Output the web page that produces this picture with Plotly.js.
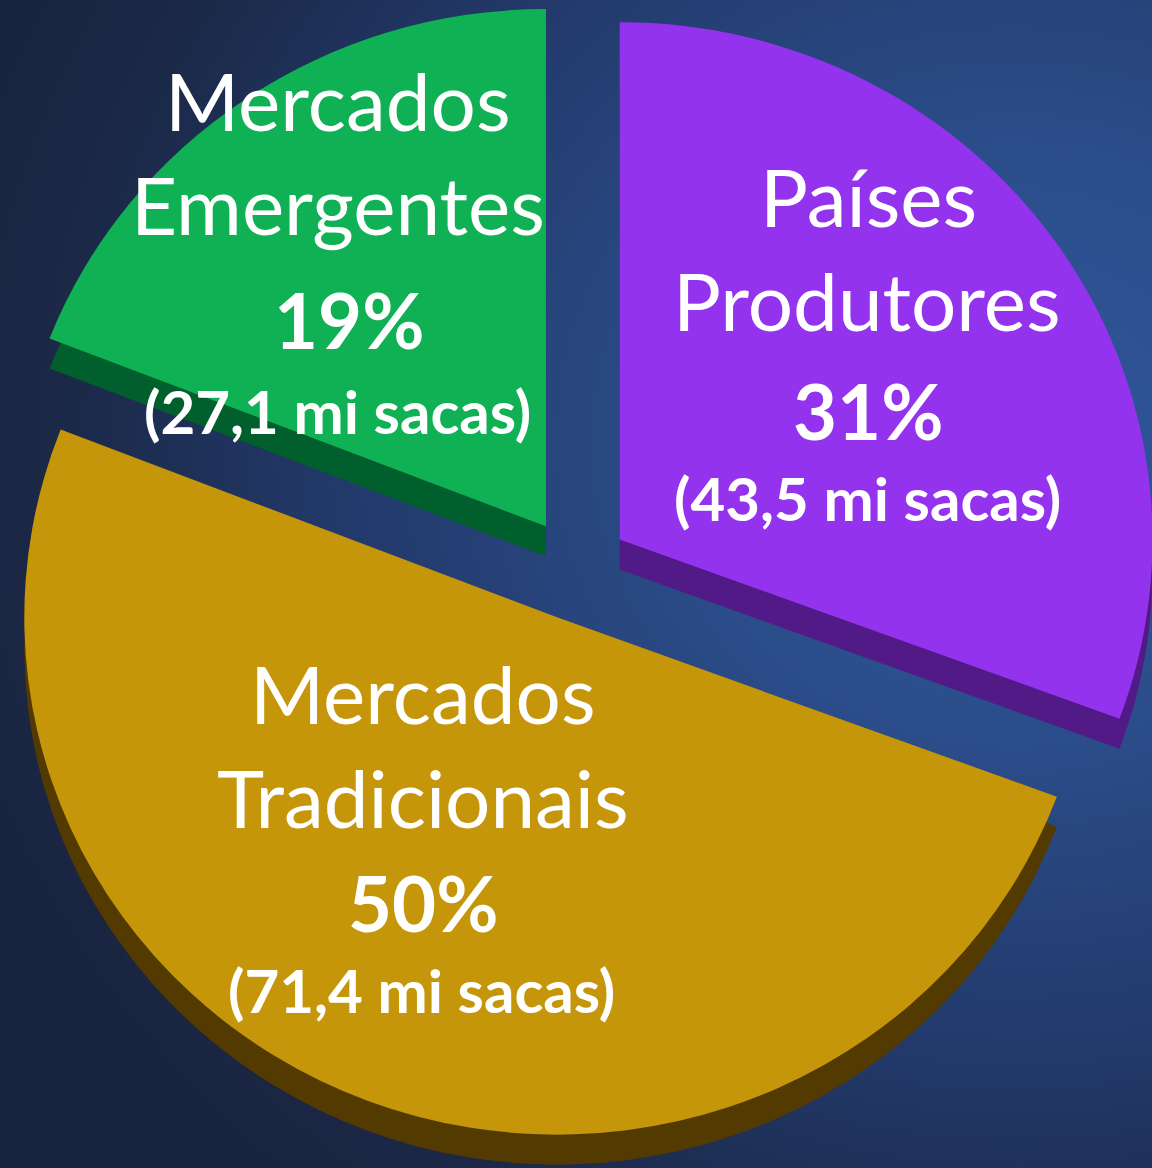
<!DOCTYPE html>
<html>
<head>
<meta charset="utf-8">
<script src="https://cdn.plot.ly/plotly-3.0.1.min.js"></script>
<style>
  html, body { margin: 0; padding: 0; }
  body {
    width: 1152px; height: 1168px; overflow: hidden;
    background: radial-gradient(ellipse 95% 85% at 88% 38%, #30569a 0%, #2b4d8a 30%, #22396a 62%, #1b2846 88%, #19243f 100%);
  }
  #chart { width: 1152px; height: 1168px; }
  /* slight horizontal stretch of the pie to mimic the 3D perspective */
  #chart .pielayer { transform: scaleX(1.03); transform-origin: 576px 584px; }
</style>
</head>
<body>
<div id="chart"></div>
<script>
// ---- data ----
const labels = ['Países Produtores', 'Mercados Tradicionais', 'Mercados Emergentes'];
const percents = [31, 50, 19];
const sacas = [43.5, 71.4, 27.1]; // milhões de sacas
const topColors = ['#9333ee', '#c6960a', '#10b155'];
const sideColors = ['#521a86', '#523a00', '#005f2c'];

// ---- layout helpers ----
const W = 1152, H = 1168;
const depth = 30;                 // 3D side thickness (px)
const dy = depth / H;
const pull = 0.1;

const basePie = {
  type: 'pie',
  labels: labels,
  values: sacas,
  sort: false,
  direction: 'clockwise',
  rotation: 0,
  pull: pull,
  textinfo: 'none',
  hoverinfo: 'label+percent',
  showlegend: false
};

const sidePie = Object.assign({}, basePie, {
  marker: { colors: sideColors, line: { width: 0 } },
  domain: { x: [0, 1], y: [0, 1 - dy] }
});
const topPie = Object.assign({}, basePie, {
  marker: { colors: topColors, line: { width: 0 } },
  domain: { x: [0, 1], y: [dy, 1] }
});

// label placement (pixels) per slice: x centers and y centers of the four lines
const labelX = [
  [868, 867, 868, 867],
  [423, 423, 423, 421],
  [338, 338, 349, 337]
];
const labelY = [
  [196, 300, 410, 498],
  [693, 797, 902, 990],
  [100, 204, 319, 411]
];
const fontFamily = 'Lato, "Noto Sans", "Open Sans", sans-serif';

const annotations = [];
labels.forEach((lab, i) => {
  const words = lab.split(' ');
  const lines = [
    { t: words[0], size: 80 },
    { t: words.slice(1).join(' '), size: 80 },
    { t: '<b>' + percents[i] + '%</b>', size: 76 },
    { t: '<b>(' + sacas[i].toFixed(1).replace('.', ',') + ' mi sacas)</b>', size: 60 }
  ];
  lines.forEach((ln, k) => {
    annotations.push({
      xref: 'paper', yref: 'paper',
      x: labelX[i][k] / W,
      y: 1 - labelY[i][k] / H,
      xanchor: 'center', yanchor: 'middle',
      text: ln.t,
      showarrow: false,
      font: { family: fontFamily, size: ln.size, color: '#ffffff' }
    });
  });
});

const layout = {
  width: W, height: H,
  margin: { l: 0, r: 0, t: 0, b: 0 },
  paper_bgcolor: 'rgba(0,0,0,0)',
  plot_bgcolor: 'rgba(0,0,0,0)',
  annotations: annotations
};

Plotly.newPlot('chart', [sidePie, topPie], layout, { displayModeBar: false, staticPlot: true });
</script>
</body>
</html>
